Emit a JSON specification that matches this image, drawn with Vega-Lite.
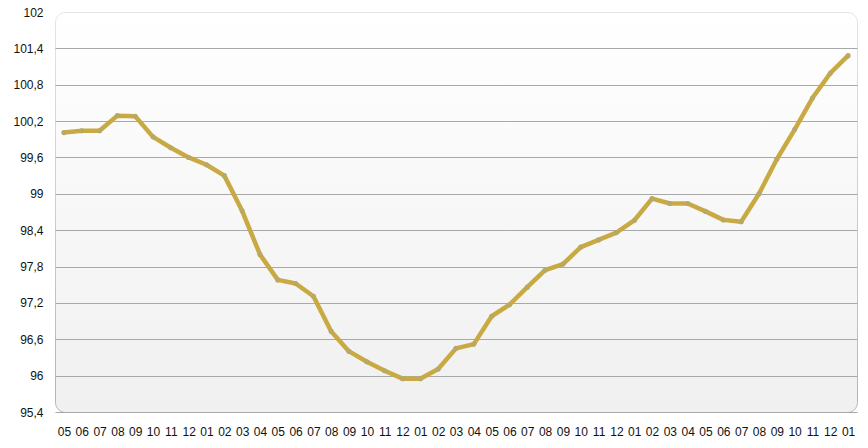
{
  "$schema": "https://vega.github.io/schema/vega-lite/v6.json",
  "width": 802,
  "height": 400,
  "autosize": {"type": "none"},
  "padding": {"left": 55, "top": 12, "right": 11, "bottom": 36},
  "background": "#ffffff",
  "config": {
    "view": {
      "cornerRadius": 10,
      "stroke": {"gradient": "linear", "x1": 0, "y1": 0, "x2": 0, "y2": 1, "stops": [{"offset": 0, "color": "#e4e4e4"}, {"offset": 1, "color": "#b4b4b4"}]},
      "strokeWidth": 1,
      "fill": {"gradient": "linear", "x1": 0, "y1": 0, "x2": 0, "y2": 1, "stops": [{"offset": 0, "color": "#ffffff"}, {"offset": 1, "color": "#f0f0f0"}]}
    },
    "font": "Liberation Sans"
  },
  "data": {
    "values": [
      {"date": "2008-05", "v": 100.01},
      {"date": "2008-06", "v": 100.04},
      {"date": "2008-07", "v": 100.04},
      {"date": "2008-08", "v": 100.29},
      {"date": "2008-09", "v": 100.28},
      {"date": "2008-10", "v": 99.94},
      {"date": "2008-11", "v": 99.76},
      {"date": "2008-12", "v": 99.6},
      {"date": "2009-01", "v": 99.48},
      {"date": "2009-02", "v": 99.3},
      {"date": "2009-03", "v": 98.72},
      {"date": "2009-04", "v": 98.0},
      {"date": "2009-05", "v": 97.58},
      {"date": "2009-06", "v": 97.52},
      {"date": "2009-07", "v": 97.31},
      {"date": "2009-08", "v": 96.73},
      {"date": "2009-09", "v": 96.4},
      {"date": "2009-10", "v": 96.23},
      {"date": "2009-11", "v": 96.08},
      {"date": "2009-12", "v": 95.95},
      {"date": "2010-01", "v": 95.95},
      {"date": "2010-02", "v": 96.11},
      {"date": "2010-03", "v": 96.45},
      {"date": "2010-04", "v": 96.52},
      {"date": "2010-05", "v": 96.98},
      {"date": "2010-06", "v": 97.17},
      {"date": "2010-07", "v": 97.46},
      {"date": "2010-08", "v": 97.74},
      {"date": "2010-09", "v": 97.84},
      {"date": "2010-10", "v": 98.12},
      {"date": "2010-11", "v": 98.24},
      {"date": "2010-12", "v": 98.36},
      {"date": "2011-01", "v": 98.56},
      {"date": "2011-02", "v": 98.92},
      {"date": "2011-03", "v": 98.84},
      {"date": "2011-04", "v": 98.84},
      {"date": "2011-05", "v": 98.71},
      {"date": "2011-06", "v": 98.57},
      {"date": "2011-07", "v": 98.54},
      {"date": "2011-08", "v": 99.0},
      {"date": "2011-09", "v": 99.57},
      {"date": "2011-10", "v": 100.06},
      {"date": "2011-11", "v": 100.58},
      {"date": "2011-12", "v": 100.99},
      {"date": "2012-01", "v": 101.28}
    ]
  },
  "encoding": {
    "x": {
      "field": "date",
      "type": "ordinal",
      "scale": {"type": "point", "padding": 0.5},
      "axis": {
        "title": null,
        "labelExpr": "slice(datum.value, 5)",
        "labelAngle": 0,
        "labelFontSize": 12,
        "labelColor": "#111111",
        "labelPadding": 14,
        "ticks": false,
        "domain": false,
        "grid": false
      }
    },
    "y": {
      "field": "v",
      "type": "quantitative",
      "scale": {"domain": [95.4, 102], "nice": false, "zero": false},
      "axis": {
        "title": null,
        "values": [95.4, 96, 96.6, 97.2, 97.8, 98.4, 99, 99.6, 100.2, 100.8, 101.4, 102],
        "labelExpr": "replace(format(datum.value, '.4~g'), '.', ',')",
        "labelFontSize": 12,
        "labelColor": "#111111",
        "labelPadding": 12,
        "ticks": false,
        "domain": false,
        "grid": true,
        "gridColor": {"condition": {"test": "datum.value >= 102", "value": "transparent"}, "value": "#a8a8a8"},
        "gridWidth": 1
      }
    }
  },
  "layer": [
    {"mark": {"type": "line", "color": "#c9aa42", "strokeWidth": 4.5, "strokeJoin": "round"}},
    {"mark": {"type": "circle", "color": "#b9a865", "size": 26, "opacity": 1}}
  ]
}
